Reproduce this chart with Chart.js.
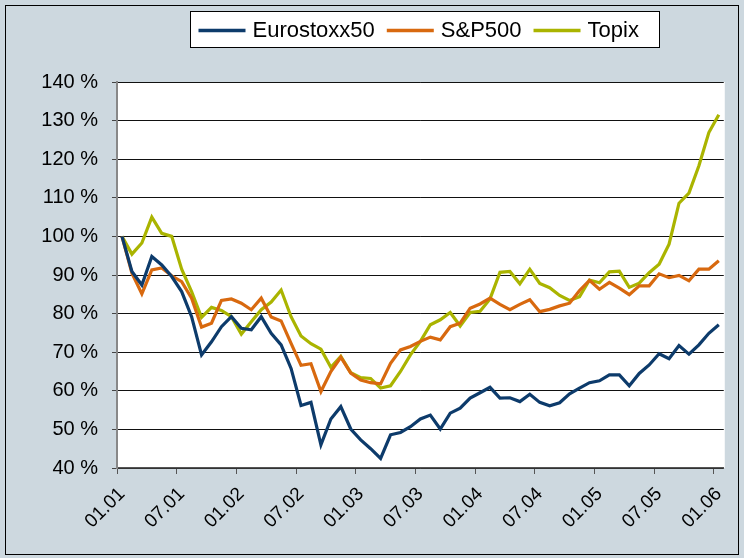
<!DOCTYPE html>
<html>
<head>
<meta charset="utf-8">
<script src="https://cdn.jsdelivr.net/npm/chart.js@4.4.1/dist/chart.umd.min.js"></script>
<style>
  body { margin: 0; background: #fff; }
  #wrap { width: 744px; height: 558px; }
</style>
</head>
<body>
<div id="wrap"><canvas id="indexChart" width="744" height="558"></canvas></div>
<script>
// monthly, MM.YY
const months = [
  '01.01','02.01','03.01','04.01','05.01','06.01','07.01','08.01','09.01','10.01','11.01','12.01',
  '01.02','02.02','03.02','04.02','05.02','06.02','07.02','08.02','09.02','10.02','11.02','12.02',
  '01.03','02.03','03.03','04.03','05.03','06.03','07.03','08.03','09.03','10.03','11.03','12.03',
  '01.04','02.04','03.04','04.04','05.04','06.04','07.04','08.04','09.04','10.04','11.04','12.04',
  '01.05','02.05','03.05','04.05','05.05','06.05','07.05','08.05','09.05','10.05','11.05','12.05',
  '01.06'
];

const eurostoxx50 = [
  100, 90.9, 87.4, 94.8, 92.6, 89.6, 85.7, 79.2, 69.3, 72.7, 76.6, 79.2,
  76.2, 75.8, 79.2, 74.9, 71.9, 65.8, 56.2, 57.0, 46.0, 52.7, 55.9, 50.1,
  47.3, 45.0, 42.5, 48.6, 49.2, 50.7, 52.7, 53.7, 50.1, 54.2, 55.5, 58.1,
  59.5, 60.9, 58.1, 58.2, 57.2, 59.1, 57.0, 56.1, 56.9, 59.2, 60.7, 62.1,
  62.6, 64.1, 64.1, 61.3, 64.5, 66.7, 69.6, 68.3, 71.7, 69.5, 71.9, 74.9,
  77.1
];

const sp500 = [
  100, 90.5, 85.1, 91.3, 91.8, 89.8, 88.3, 84.0, 76.5, 77.5, 83.4, 83.8,
  82.7, 81.0, 84.0, 79.1, 78.1, 72.3, 66.6, 67.0, 59.8, 65.0, 68.7, 64.6,
  62.8, 62.1, 61.8, 67.1, 70.6, 71.5, 72.8, 73.9, 73.2, 76.6, 77.5, 81.4,
  82.5, 84.0, 82.4, 81.0, 82.4, 83.6, 80.5, 81.1, 82.0, 82.7, 86.0, 88.6,
  86.3, 88.1, 86.6, 84.9, 87.2, 87.2, 90.3, 89.3, 89.9, 88.5, 91.5, 91.5,
  93.7
];

const topix = [
  100, 95.4, 98.3, 105.0, 100.8, 100.0, 91.5, 85.7, 79.0, 81.6, 80.8, 79.2,
  74.7, 77.9, 81.0, 83.0, 86.1, 79.2, 74.2, 72.2, 70.8, 66.1, 68.9, 64.7,
  63.4, 63.2, 60.7, 61.3, 65.0, 69.3, 72.8, 77.1, 78.4, 80.3, 76.8, 80.3,
  80.6, 83.8, 90.7, 90.9, 87.7, 91.5, 87.8, 86.7, 84.7, 83.4, 84.4, 88.7,
  88.0, 90.8, 91.0, 86.8, 87.9, 90.6, 92.8, 98.0, 108.6, 111.2, 118.3, 126.9,
  131.5
];

const seriesNames = ['Eurostoxx50', 'S&P500', 'Topix'];
const seriesColors = ['#0d3b6b', '#d8690f', '#aab400'];
const labelEvery = 6;   // one x label every 6 months

const FONT = "'Liberation Sans', Arial, sans-serif";
const BG = '#cdd8df';

// gray page, frame and white plot area
const backdrop = {
  id: 'backdrop',
  beforeDraw(chart) {
    const { ctx, chartArea: a } = chart;
    ctx.save();
    ctx.fillStyle = BG;
    ctx.fillRect(0, 0, chart.width, chart.height);
    ctx.strokeStyle = '#000';
    ctx.lineWidth = 1;
    ctx.strokeRect(5.5, 5.5, chart.width - 11, chart.height - 9);
    ctx.fillStyle = '#fff';
    ctx.fillRect(a.left, a.top, a.right - a.left + 1, a.bottom - a.top);
    ctx.restore();
  }
};

// boxed legend like the excel one
const boxLegend = {
  id: 'boxLegend',
  afterDraw(chart) {
    const ctx = chart.ctx;
    const box = { x: 190.5, y: 11.5, w: 469, h: 36 };
    ctx.save();
    ctx.fillStyle = '#fff';
    ctx.fillRect(box.x, box.y, box.w, box.h);
    ctx.strokeStyle = '#000';
    ctx.lineWidth = 1;
    ctx.strokeRect(box.x, box.y, box.w, box.h);
    ctx.font = '22px ' + FONT;
    ctx.textBaseline = 'middle';
    const cy = box.y + box.h / 2 + 1;
    let x = box.x + 8;
    chart.data.datasets.forEach(ds => {
      ctx.strokeStyle = ds.borderColor;
      ctx.lineWidth = 3.5;
      ctx.beginPath();
      ctx.moveTo(x, cy);
      ctx.lineTo(x + 47, cy);
      ctx.stroke();
      x += 54;
      ctx.fillStyle = '#000';
      ctx.fillText(ds.label, x, cy);
      x += ctx.measureText(ds.label).width + 12;
    });
    ctx.restore();
  }
};

const chart = new Chart(document.getElementById('indexChart'), {
  type: 'line',
  data: {
    labels: months,
    datasets: [eurostoxx50, sp500, topix].map((vals, i) => ({
      label: seriesNames[i],
      data: vals,
      borderColor: seriesColors[i],
      backgroundColor: seriesColors[i],
      borderWidth: 3.2,
      pointRadius: 0,
      tension: 0,
      borderJoinStyle: 'miter'
    }))
  },
  options: {
    responsive: false,
    animation: false,
    events: [],
    layout: { padding: { top: 82, right: 10, left: 0, bottom: 0 } },
    plugins: { legend: { display: false }, tooltip: { enabled: false } },
    scales: {
      x: {
        type: 'category',
        offset: true,
        afterFit(scale) { scale.height = 90; },
        border: { color: '#555', width: 1.5 },
        grid: {
          offset: true,
          drawOnChartArea: false,
          tickLength: 6,
          color: c => (c.index % labelEvery === 0 ? '#555' : 'rgba(0,0,0,0)')
        },
        ticks: {
          autoSkip: false,
          maxRotation: 45,
          minRotation: 45,
          padding: 9,
          color: '#000',
          font: { family: FONT, size: 19 },
          callback(val, idx) { return idx % labelEvery === 0 ? months[idx] : ''; }
        }
      },
      y: {
        min: 40,
        max: 140,
        afterFit(scale) { scale.width = 117; },
        border: { color: '#888', width: 2 },
        grid: { color: '#111', lineWidth: 1, tickLength: 5, tickColor: '#444' },
        ticks: {
          stepSize: 10,
          padding: 14,
          color: '#000',
          font: { family: FONT, size: 20 },
          callback: v => v + ' %'
        }
      }
    }
  },
  plugins: [backdrop, boxLegend]
});
</script>
</body>
</html>
